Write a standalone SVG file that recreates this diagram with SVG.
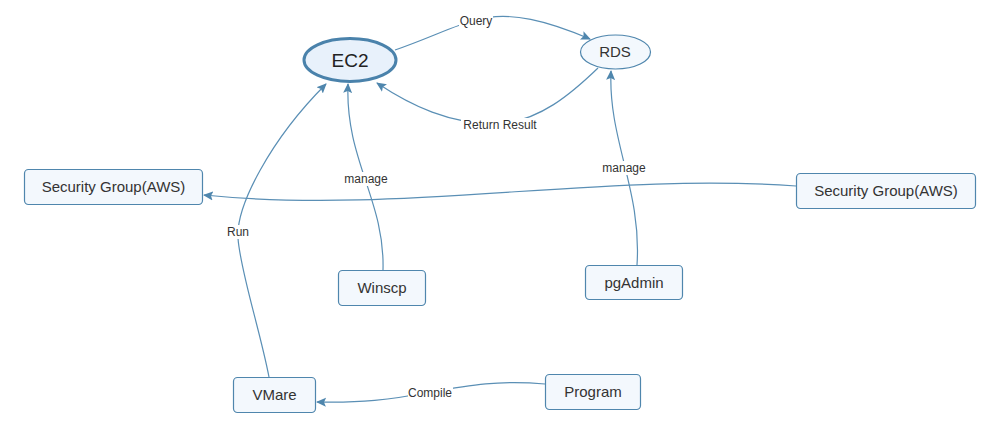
<svg xmlns="http://www.w3.org/2000/svg" width="999" height="423" viewBox="0 0 999 423">
<style>
.node{fill:#f3f8fd;stroke:#4f86ad;stroke-width:1.2}
.nt{font-family:"Liberation Sans",Arial,sans-serif;font-size:15px;fill:#333;text-anchor:middle}
.edge{fill:none;stroke:#5a8fb5;stroke-width:1.2}
.lbg{fill:#fff}
.lt{font-family:"Liberation Sans",Arial,sans-serif;font-size:12px;fill:#333;text-anchor:middle}
</style>
<defs>
<marker id="arr" viewBox="0 0 10 10" refX="9" refY="5" markerWidth="10" markerHeight="10" markerUnits="userSpaceOnUse" orient="auto">
<path d="M0,0.5 L10,5 L0,9.5 L2,5 Z" fill="#4f86ad"/>
</marker>
</defs>
<rect width="999" height="423" fill="#fff"/>
<g id="connectors">
<path class="edge" d="M395,50 C430,38 455,25 476,20 C510,10 550,22 590,39" marker-end="url(#arr)"/>
<path class="edge" d="M598,68 C570,95 540,120 500,124 C450,125 410,105 377,83" marker-end="url(#arr)"/>
<path class="edge" d="M269,377 C260,330 240,270 238,238 C236,206 270,140 326,84" marker-end="url(#arr)"/>
<path class="edge" d="M383,270 C385,200 345,160 348,84" marker-end="url(#arr)"/>
<path class="edge" d="M637,265 C642,190 608,140 611,71" marker-end="url(#arr)"/>
<path class="edge" d="M796,186 C600,172 400,215 204,195" marker-end="url(#arr)"/>
<path class="edge" d="M545,384 C500,380 470,385 430,392 C390,400 360,403 317,402" marker-end="url(#arr)"/>
<rect class="lbg" x="459" y="13" width="34" height="14"/>
<text class="lt" x="476" y="25">Query</text>
<rect class="lbg" x="461" y="118" width="77" height="14"/>
<text class="lt" x="500" y="129">Return Result</text>
<rect class="lbg" x="226" y="225" width="24" height="14"/>
<text class="lt" x="238" y="236">Run</text>
<rect class="lbg" x="343" y="172" width="46" height="14"/>
<text class="lt" x="366" y="183">manage</text>
<rect class="lbg" x="601" y="161" width="46" height="14"/>
<text class="lt" x="624" y="172">manage</text>
<rect class="lbg" x="408" y="386" width="45" height="14"/>
<text class="lt" x="430" y="397">Compile</text>
</g>
<g id="ec2">
<ellipse cx="350" cy="60" rx="46" ry="21.5" fill="#e8f1fb" stroke="#4a82ab" stroke-width="3"/>
<text x="350" y="67" font-family="Liberation Sans,Arial,sans-serif" font-size="19" fill="#222" text-anchor="middle">EC2</text>
</g>
<g id="rds">
<ellipse cx="615.5" cy="52" rx="35" ry="17" class="node"/>
<text class="nt" x="615" y="57">RDS</text>
</g>
<g id="sg-left">
<rect class="node" x="24.5" y="169.5" width="178" height="35" rx="4"/>
<text class="nt" x="113.5" y="192">Security Group(AWS)</text>
</g>
<g id="sg-right">
<rect class="node" x="796.5" y="173.5" width="179" height="35" rx="4"/>
<text class="nt" x="886" y="196">Security Group(AWS)</text>
</g>
<g id="winscp">
<rect class="node" x="338.5" y="270.5" width="87" height="35" rx="4"/>
<text class="nt" x="382" y="293">Winscp</text>
</g>
<g id="pgadmin">
<rect class="node" x="585.5" y="265.5" width="97" height="34" rx="4"/>
<text class="nt" x="634" y="288">pgAdmin</text>
</g>
<g id="vmare">
<rect class="node" x="233.5" y="377.5" width="82" height="35" rx="4"/>
<text class="nt" x="274.5" y="400">VMare</text>
</g>
<g id="program">
<rect class="node" x="545.5" y="374.5" width="95" height="35" rx="4"/>
<text class="nt" x="593" y="397">Program</text>
</g>
</svg>
